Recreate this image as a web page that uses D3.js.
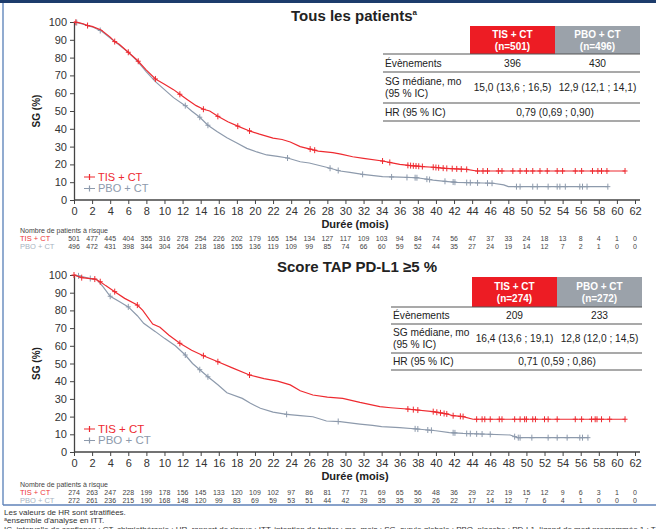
<!DOCTYPE html>
<html>
<head>
<meta charset="utf-8">
<script src="https://cdn.jsdelivr.net/npm/d3@7"></script>
<style>
  body { margin: 0; background: #fff; font-family: "Liberation Sans", Arial, sans-serif; }
  svg text { font-family: "Liberation Sans", Arial, sans-serif; }
</style>
</head>
<body>
<div id="chart"></div>
<script>
// at-risk columns every 2 months
const riskMonths = d3.range(0, 63, 2);

// --- Tous les patients ---
const riskTisAll = [501,477,445,404,355,316,278,254,226,202,179,165,154,134,127,117,109,103,94,84,74,56,47,37,33,24,18,13,8,4,1,0];
const riskPboAll = [496,472,431,398,344,304,264,218,186,155,136,119,109,99,85,74,66,60,59,52,44,35,27,24,19,14,12,7,2,1,0,0];

const tisAll = [[0,100],[0.5,99.6],[1,99],[1.5,98],[2,97.5],[3,95.5],[4,91.5],[4.5,89],[5,87.5],[6,83],[7,78.5],[8,73],[9,68],[10,65],[11,62],[11.7,59.4],[12.5,56.5],[13.5,53],[14.3,51],[15,50],[15.9,47],[17,44],[18.1,41.5],[19.4,38.8],[20.5,37],[22,34.8],[23,34],[23.9,32.6],[25,30],[26.1,28.6],[27,27.5],[28.6,26.6],[29.5,25.8],[30.8,24.3],[32,23.4],[34.1,21.9],[35,21],[36,20],[37,19.4],[38.5,18.8],[39.7,18.4],[41,17.8],[43.4,17.2],[44.5,16.3],[60.9,16.3]];
const pboAll = [[0,100],[0.5,99.5],[1,98.8],[1.5,98],[2,97.3],[3,95],[4,91],[5,87],[6,83],[7,78],[8,72],[9,66.5],[10,62],[11,57.5],[12.3,53],[13,50],[13.9,46.5],[14.8,42],[15.8,38.5],[16.9,35],[18,32],[19.1,29],[20.2,27],[21.3,25.3],[22.5,24.5],[23.6,23.6],[25,21.5],[26,20.8],[27.9,18.4],[29.4,16.3],[30.5,15.5],[31.9,14.4],[34.1,13.1],[36,12.8],[37.9,12.5],[39.7,11.2],[41,10.5],[42.3,9.9],[46.3,9.4],[47.5,8.5],[48,7.5],[59,7.5]];
const censTisAll = [0.2,1.5,4.5,6,7.1,9,11.7,14.3,15.9,18.1,19.4,26.1,26.6,34.1,34.9,36.9,37.2,37.5,37.8,38.1,38.5,39.7,40,40.3,40.8,41.2,41.8,42.3,42.8,43.4,44.6,45.2,45.7,46.9,47.3,48.5,49.3,50,50.7,51.5,52.3,53.4,54,55.4,56.1,57.3,57.9,58.3,58.9,60.9];
const censPboAll = [0.3,2.9,12.3,13.9,14.8,23.6,28.3,29.2,31.9,35.1,36.8,37.7,37.9,39,39.3,41,41.9,42.1,43.4,43.8,44.6,45.7,46.2,48.9,49.3,50.7,51.2,52.4,53.4,53.7,54.3,55.9,56.2,56.7,59];

// --- Score TAP PD-L1 >=5 % ---
const riskTisPdl1 = [274,263,247,228,199,178,156,145,133,120,109,102,97,86,81,77,71,69,65,56,48,36,29,22,19,15,12,9,6,3,1,0];
const riskPboPdl1 = [272,261,236,215,190,168,148,120,99,83,69,59,53,51,44,42,39,35,35,30,26,22,17,14,12,7,6,4,1,0,0,0];

const tisPdl1 = [[0,100],[0.85,98.5],[2.3,97.7],[2.9,96.2],[3.5,94],[4.5,90.6],[5.6,86.8],[7,83],[7.6,80],[8.7,72.3],[9.5,70.5],[10.5,66],[11.7,61.4],[13,57.5],[14.3,54.4],[15.9,51],[17.5,47.5],[19.4,43.5],[21,41.5],[22.5,40],[23.9,37.9],[25,34.6],[26.4,32.2],[28,31],[29.7,30.3],[31.6,28],[33.8,25.6],[35,25],[36.8,24.3],[39.7,22.8],[41.2,21.5],[41.9,20.5],[43,20],[44.1,18.5],[60.9,18.5]];
const pboPdl1 = [[0,100],[1,99],[1.8,98],[2.5,97.5],[3.2,93.4],[4,88],[5,85],[6,82],[7,77],[7.7,72.7],[9,68],[10,64.2],[11.2,60],[12.3,54.8],[13.1,50],[13.9,46.5],[14.8,42.5],[15.9,38],[16.9,33.5],[18.6,30.3],[19.5,27.5],[20.6,24.7],[22,22.5],[23.5,21.3],[25,20.5],[26.4,19.9],[27.9,17.5],[29.4,17.2],[31.6,15.8],[33,15],[34,14.3],[36,13.8],[37.9,13],[40,12],[41.5,11],[43,10.5],[48.2,9.6],[49,8.1],[56.8,8.1]];
const censTisPdl1 = [0,0.85,2.3,2.9,4.5,7,11.7,14.3,15.9,19.4,36.9,37.5,38,39.7,40.1,40.5,40.9,41.2,41.9,42.7,43,44.5,45.1,45.4,46,47,47.3,48.7,49.3,49.8,50,50.7,51,52,52.4,53.4,55.4,56.1,57.2,57.6,57.8,58.3,59.2,60.9];
const censPboPdl1 = [0.5,1.8,4,6,12.3,13.9,14.8,23.5,29.2,37.7,38,39.1,39.5,41.9,42.1,43.4,43.8,44.5,45.1,46,48.7,49.1,49.3,50.6,52.4,53.4,54.5,55.9,56.2,56.8];

// summary tables
const headAll = [["TIS + CT", "(n=501)"], ["PBO + CT", "(n=496)"]];
const eventsAll = ["396", "430"];
const medianAll = ["15,0 (13,6 ; 16,5)", "12,9 (12,1 ; 14,1)"];
const hrAll = "0,79 (0,69 ; 0,90)";

const headPdl1 = [["TIS + CT", "(n=274)"], ["PBO + CT", "(n=272)"]];
const eventsPdl1 = ["209", "233"];
const medianPdl1 = ["16,4 (13,6 ; 19,1)", "12,8 (12,0 ; 14,5)"];
const hrPdl1 = "0,71 (0,59 ; 0,86)";

const footnotes = [
  "Les valeurs de HR sont stratifiées.",
  "ᵃensemble d'analyse en ITT.",
  "IC, intervalle de confiance ; CT, chimiothérapie ; HR, rapport de risque ; ITT, intention de traiter ; mo, mois ; SG, survie globale ; PBO, placebo ; PD-L1, ligand de mort programmée 1 ; TAP, positivité de la zone"
];

const RED = "#ee2a30", GREY = "#8d9aac";
const width = 656, height = 529;

const svg = d3.select("#chart").append("svg")
  .attr("width", width).attr("height", height);

// frame
svg.append("rect").attr("x", 0).attr("y", 0).attr("width", width).attr("height", 3).attr("fill", "#1d3c6c");
svg.append("line").attr("x1", 3).attr("x2", 3).attr("y1", 3).attr("y2", 505)
  .attr("stroke", "#6d8fc0").attr("stroke-width", 1.5);
svg.append("line").attr("x1", 3).attr("x2", width).attr("y1", 505).attr("y2", 505)
  .attr("stroke", "#5f82b8").attr("stroke-width", 1.5);

const x = d3.scaleLinear().domain([0, 62]).range([74, 635]);

function survAt(curve, t) {
  const i = d3.bisector(d => d[0]).right(curve, t);
  if (i <= 0) return curve[0][1];
  if (i >= curve.length) return curve[curve.length - 1][1];
  const a = curve[i - 1], b = curve[i];
  return a[1] + (b[1] - a[1]) * (t - a[0]) / (b[0] - a[0]);
}

function drawPanel(p) {
  const g = svg.append("g");
  const y = d3.scaleLinear().domain([0, 100]).range([p.y0, p.y100]);

  // title
  const t = g.append("text").attr("x", p.titleX).attr("y", p.titleY)
    .attr("text-anchor", "middle").attr("font-size", 15).attr("font-weight", "bold").attr("fill", "#222")
    .text(p.title);
  if (p.sup) t.append("tspan").attr("font-size", 8).attr("dy", -6).text(p.sup);

  // axes
  const yAxis = g.append("g").attr("transform", `translate(${x(0)},0)`)
    .call(d3.axisLeft(y).tickValues(d3.range(0, 101, 10)).tickSize(4).tickSizeOuter(0));
  const xAxis = g.append("g").attr("transform", `translate(0,${p.y0})`)
    .call(d3.axisBottom(x).tickValues(riskMonths).tickSize(4).tickSizeOuter(0));
  [yAxis, xAxis].forEach(a => {
    a.select(".domain").attr("stroke", "#444").attr("stroke-width", 1.3);
    a.selectAll(".tick line").attr("stroke", "#444");
    a.selectAll(".tick text").attr("font-size", 11).attr("fill", "#333");
  });
  xAxis.select(".domain").attr("d", `M${x(0)},0H${x(62) + 5}`);

  g.append("text")
    .attr("transform", `translate(${p.ylabX},${(p.y0 + p.y100) / 2}) rotate(-90)`)
    .attr("text-anchor", "middle").attr("font-size", 10).attr("font-weight", "bold").attr("fill", "#222")
    .text("SG (%)");
  g.append("text").attr("x", 355).attr("y", p.y0 + 28)
    .attr("text-anchor", "middle").attr("font-size", 11).attr("font-weight", "bold").attr("fill", "#222")
    .text("Durée (mois)");

  // curves
  const line = d3.line().x(d => x(d[0])).y(d => y(d[1]));
  const series = [
    { data: p.pbo, cens: p.censPbo, color: GREY },
    { data: p.tis, cens: p.censTis, color: RED }
  ];
  series.forEach(s => {
    g.append("path").datum(s.data).attr("d", line)
      .attr("fill", "none").attr("stroke", s.color).attr("stroke-width", 1.2);
    g.selectAll(null).data(s.cens).join("path")
      .attr("d", c => {
        const cx = x(c), cy = y(survAt(s.data, c));
        return `M${cx},${cy - 3}V${cy + 3}M${cx - 2.5},${cy}H${cx + 2.5}`;
      })
      .attr("stroke", s.color).attr("stroke-width", 1).attr("fill", "none");
  });

  // legend
  [["TIS + CT", RED], ["PBO + CT", GREY]].forEach(([lab, col], i) => {
    const ly = p.legY + i * p.legGap;
    g.append("path").attr("d", `M84,${ly}H95M89.5,${ly - 3}V${ly + 3}`)
      .attr("stroke", col).attr("stroke-width", 1.2);
    g.append("text").attr("x", 98).attr("y", ly + p.legFont * 0.34)
      .attr("font-size", p.legFont).attr("fill", col).text(lab);
  });

  // summary table
  const tb = p.table;
  const cw = (tb.right - tb.c0) / 2;
  p.head.forEach((h, i) => {
    const hx = tb.c0 + i * cw;
    g.append("rect").attr("x", hx).attr("y", tb.top).attr("width", cw).attr("height", tb.headH)
      .attr("fill", i === 0 ? "#ed1c24" : "#9ba2aa");
    h.forEach((s, j) => {
      g.append("text").attr("x", hx + cw / 2).attr("y", tb.top + tb.headH * (j === 0 ? 0.3 : 0.72) + 3.5)
        .attr("text-anchor", "middle").attr("font-size", 10).attr("font-weight", "bold")
        .attr("fill", "#fff").text(s);
    });
  });
  const r1 = tb.top + tb.headH, r2 = r1 + tb.rowH, r3 = r2 + tb.rowH2, r4 = r3 + tb.rowH;
  [r1, r2, r3, r4].forEach(ry => {
    g.append("line").attr("x1", tb.left).attr("x2", tb.right).attr("y1", ry).attr("y2", ry)
      .attr("stroke", "#555").attr("stroke-width", 1.2);
  });
  const txt = (tx, ty, s, anchor, fs) => g.append("text").attr("x", tx).attr("y", ty)
    .attr("text-anchor", anchor || "middle").attr("font-size", fs || tb.font).attr("fill", "#222").text(s);
  const mid1 = (r1 + r2) / 2 + 3.6, mid2 = (r2 + r3) / 2 + 3.6, mid3 = (r3 + r4) / 2 + 3.6;
  txt(tb.left + 2, mid1, "Évènements", "start");
  txt(tb.left + 2, mid2 - 6, "SG médiane, mo", "start");
  txt(tb.left + 2, mid2 + 6, "(95 % IC)", "start");
  txt(tb.left + 2, mid3, "HR (95 % IC)", "start");
  p.events.forEach((s, i) => txt(tb.c0 + cw * (i + 0.5), mid1, s, "middle", tb.vfont));
  p.median.forEach((s, i) => txt(tb.c0 + cw * (i + 0.5), mid2, s, "middle", tb.vfont));
  txt(tb.c0 + cw, mid3, p.hr, "middle", tb.vfont);

  // patients at risk
  const rk = g.append("g").attr("font-size", 7);
  rk.append("text").attr("x", 20).attr("y", p.riskY).attr("fill", "#444").text("Nombre de patients à risque");
  [[p.riskTis, "TIS + CT", "#ee3339"], [p.riskPbo, "PBO + CT", "#a8b3c1"]].forEach(([vals, lab, col], i) => {
    const ry = p.riskY + 8 + i * 8;
    rk.append("text").attr("x", 20).attr("y", ry).attr("fill", col).attr("font-size", 7.5).text(lab);
    rk.selectAll(null).data(vals).join("text")
      .attr("x", (v, j) => x(riskMonths[j])).attr("y", ry)
      .attr("text-anchor", "middle").attr("fill", "#444").text(v => v);
  });
}

drawPanel({
  title: "Tous les patients", sup: "a", titleX: 354, titleY: 21,
  y0: 200, y100: 22, ylabX: 40,
  tis: tisAll, pbo: pboAll, censTis: censTisAll, censPbo: censPboAll,
  legY: 177, legGap: 11.5, legFont: 11,
  table: { top: 26, headH: 28, rowH: 18, rowH2: 31, left: 383, c0: 470, right: 640, font: 10.2, vfont: 10.2 },
  head: headAll, events: eventsAll, median: medianAll, hr: hrAll,
  riskY: 233, riskTis: riskTisAll, riskPbo: riskPboAll
});

drawPanel({
  title: "Score TAP PD-L1 ≥5 %", titleX: 357, titleY: 272,
  y0: 452, y100: 275, ylabX: 40,
  tis: tisPdl1, pbo: pboPdl1, censTis: censTisPdl1, censPbo: censPboPdl1,
  legY: 429, legGap: 11.5, legFont: 11.5,
  table: { top: 277, headH: 30, rowH: 17, rowH2: 29, left: 391, c0: 472, right: 642, font: 10.2, vfont: 10.2 },
  head: headPdl1, events: eventsPdl1, median: medianPdl1, hr: hrPdl1,
  riskY: 487, riskTis: riskTisPdl1, riskPbo: riskPboPdl1
});

// footnotes
svg.append("g").selectAll("text").data(footnotes).join("text")
  .attr("x", 4).attr("y", (d, i) => 515 + i * 8.3)
  .attr("font-size", 8).attr("fill", "#333").text(d => d);
</script>
</body>
</html>
